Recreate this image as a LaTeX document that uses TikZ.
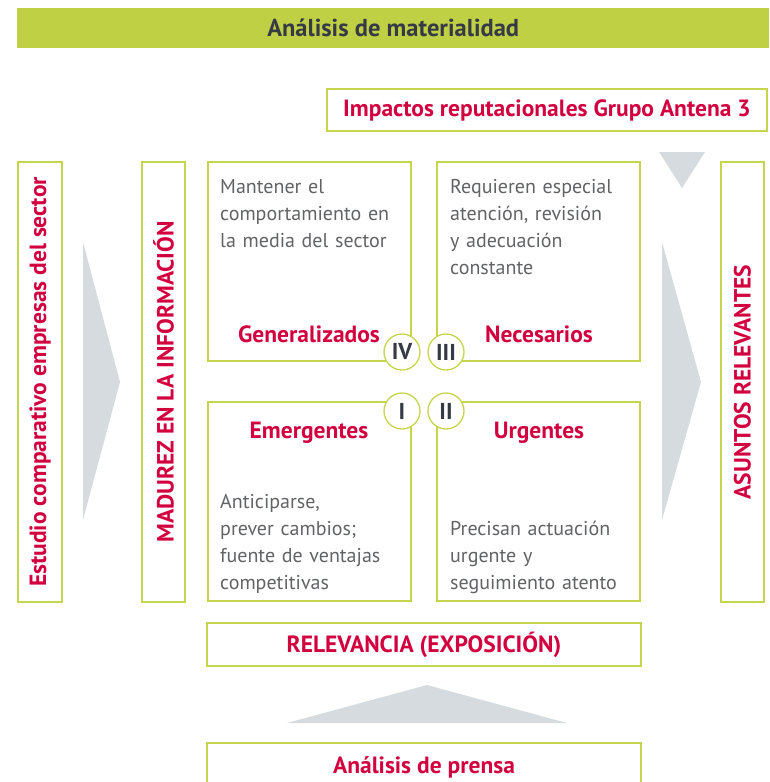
\documentclass[tikz,border=0pt]{standalone}
\usepackage{fontspec}
\setmainfont{PT Sans}
\definecolor{lime}{HTML}{C5D64E}
\definecolor{barfill}{HTML}{BFD045}
\definecolor{accent}{HTML}{D2003E}
\definecolor{bodytxt}{HTML}{626365}
\definecolor{arrowgray}{HTML}{D5DBDE}
\definecolor{darktxt}{HTML}{363A45}
\tikzset{
  box/.style={draw=lime, line width=1.3pt, fill=white, inner sep=0pt, outer sep=0pt, anchor=north west},
  redlab/.style={text=accent, font=\fontsize{23.5}{27}\selectfont\bfseries},
  body/.style={text=bodytxt, font=\fontsize{20}{27}\selectfont, align=left, text width=190pt, inner sep=0pt, anchor=base west},
  roman/.style={circle, draw=lime, fill=white, line width=1.3pt, minimum size=36pt, inner sep=0pt, text=darktxt, font=\fontsize{23}{26}\selectfont\bfseries},
  tri/.style={fill=arrowgray}
}
\begin{document}
\begin{tikzpicture}[x=1pt,y=-1pt]
\useasboundingbox (0,0) rectangle (769,782);
% title bar
\node[fill=barfill, inner sep=0pt, anchor=north west, minimum width=752pt, minimum height=40pt,
      text=darktxt, font=\fontsize{24.5}{27}\selectfont\bfseries] (title) at (17,8) {Análisis de materialidad};
% impactos
\node[box, minimum width=440pt, minimum height=42pt, redlab] (impact) at (327,89) {Impactos reputacionales Grupo Antena 3};
% arrows
\fill[tri] (659,152) -- (705,152) -- (682,188) -- cycle;
\fill[tri] (83,242) -- (120,382) -- (83,520) -- cycle;
\fill[tri] (662,242) -- (701,382) -- (662,520) -- cycle;
\fill[tri] (287,723) -- (427,685) -- (567,723) -- cycle;
% side boxes
\node[box, minimum width=44pt, minimum height=440pt] (estudio) at (18,162) {};
\node[redlab, rotate=90] at (estudio.center) {Estudio comparativo empresas del sector};
\node[box, minimum width=43pt, minimum height=440pt] (madurez) at (142,162) {};
\node[redlab, rotate=90] at (madurez.center) {MADUREZ EN LA INFORMACIÓN};
\node[box, minimum width=43pt, minimum height=440pt] (asuntos) at (721,162) {};
\node[redlab, rotate=90] at (asuntos.center) {ASUNTOS RELEVANTES};
% quadrants
\node[box, minimum width=203pt, minimum height=199pt] (q4) at (208,162) {};
\node[box, minimum width=203pt, minimum height=199pt] (q3) at (437,162) {};
\node[box, minimum width=203pt, minimum height=199pt] (q1) at (208,402) {};
\node[box, minimum width=203pt, minimum height=199pt] (q2) at (437,402) {};
\node[body] (t4) at (220,193) {Mantener el\\comportamiento en\\la media del sector};
\node[body] (t3) at (450,193) {Requieren especial\\atención, revisión\\y adecuación\\constante};
\node[body] (t1) at (220,508) {Anticiparse,\\prever cambios;\\fuente de ventajas\\competitivas};
\node[body] (t2) at (450,535) {Precisan actuación\\urgente y\\seguimiento atento};
\node[redlab] (l4) at (309,334) {Generalizados};
\node[redlab] (l3) at (539,334) {Necesarios};
\node[redlab] (l1) at (309,433) {Emergentes};
\node[redlab] (l2) at (539,433) {Urgentes};
\node[roman] (c4) at (402,352) {IV};
\node[roman] (c3) at (446,352) {III};
\node[roman] (c1) at (402,411) {I};
\node[roman] (c2) at (446,411) {II};
% bottom
\node[box, minimum width=434pt, minimum height=43pt, redlab] (relev) at (207,623) {RELEVANCIA (EXPOSICIÓN)};
\draw[lime, line width=1.3pt] (207,790) -- (207,743) coordinate (p1) -- (641,743) coordinate (p2) -- (641,790);
\node[redlab] (prensa) at (424,767) {Análisis de prensa};
\end{tikzpicture}
\end{document}
